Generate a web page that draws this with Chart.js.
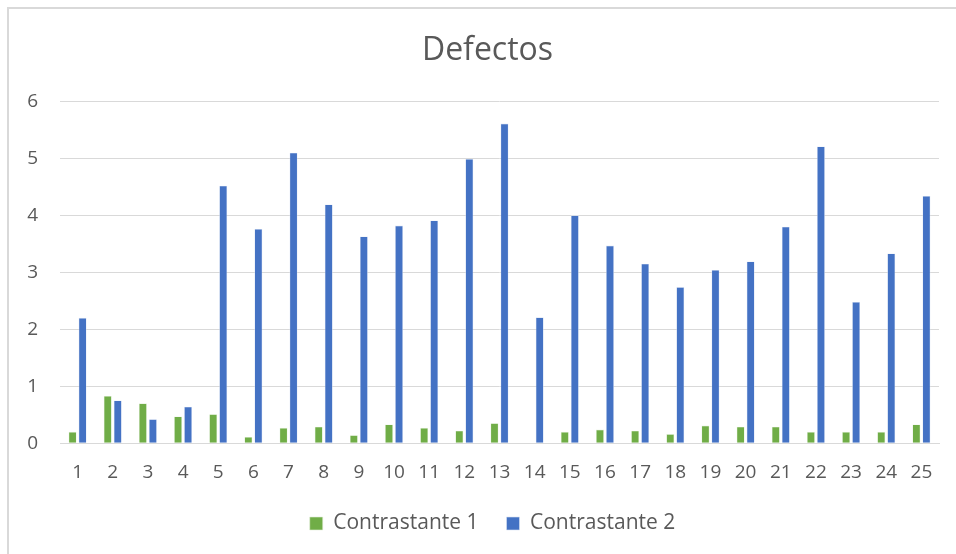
<!DOCTYPE html>
<html>
<head>
<meta charset="utf-8">
<script src="https://cdn.jsdelivr.net/npm/chart.js@4/dist/chart.umd.min.js"></script>
<style>
html,body{margin:0;padding:0;background:#fff;}
#wrap{position:relative;width:956px;height:554px;overflow:hidden;}
#frame{position:absolute;left:7px;top:7px;width:960px;height:560px;border-left:2px solid #d9d9d9;border-top:2px solid #d9d9d9;box-sizing:border-box;pointer-events:none;}
canvas{position:absolute;left:0;top:0;}
</style>
</head>
<body>
<div id="wrap">
<canvas id="c" width="956" height="554"></canvas>
<div id="frame"></div>
</div>
<script>
const categories = ['1','2','3','4','5','6','7','8','9','10','11','12','13','14','15','16','17','18','19','20','21','22','23','24','25'];
const contrastante1 = [0.20,0.83,0.70,0.47,0.51,0.11,0.27,0.29,0.14,0.33,0.27,0.22,0.35,0,0.20,0.24,0.22,0.16,0.31,0.29,0.29,0.20,0.20,0.20,0.33];
const contrastante2 = [2.20,0.75,0.42,0.64,4.52,3.76,5.10,4.19,3.63,3.82,3.91,4.99,5.61,2.21,4.00,3.47,3.15,2.74,3.04,3.19,3.80,5.21,2.48,3.33,4.34];
const seriesNames = ['Contrastante 1','Contrastante 2'];
const yTicks = [0,1,2,3,4,5,6];

const FONT = "'Open Sans', 'Liberation Sans', sans-serif";
const GREY = '#595959';

// The original chart frame extends past the right edge, so title and legend sit right of centre.
const shiftBlocks = {
  id: 'shiftBlocks',
  afterLayout(chart) {
    const t = chart.titleBlock, l = chart.legend;
    if (t) { t.left += 13; t.right += 13; }
    if (l) { l.left += 18; l.right += 18; }
  }
};

new Chart(document.getElementById('c'), {
  type: 'bar',
  data: {
    labels: categories,
    datasets: [
      {label: seriesNames[0], data: contrastante1, backgroundColor: '#70AD47', borderColor: '#e2efda', borderWidth: 0.6},
      {label: seriesNames[1], data: contrastante2, backgroundColor: '#4472C4', borderColor: '#dae3f3', borderWidth: 0.6}
    ]
  },
  plugins: [shiftBlocks],
  options: {
    responsive: false,
    animation: false,
    devicePixelRatio: 1,
    layout: {padding: {left: 10, right: 17, top: 16, bottom: 10}},
    datasets: {bar: {categoryPercentage: 0.57, barPercentage: 0.8}},
    plugins: {
      title: {display: true, text: 'Defectos', color: GREY, font: {family: FONT, size: 32, weight: 'normal'}, padding: {top: 16, bottom: 31}},
      legend: {position: 'bottom', labels: {color: GREY, font: {family: FONT, size: 21}, boxWidth: 13, boxHeight: 13, padding: 28}},
      tooltip: {enabled: false}
    },
    scales: {
      x: {
        grid: {display: false, drawTicks: false},
        border: {display: true, color: '#d9d9d9', width: 1},
        ticks: {color: GREY, font: {family: FONT, size: 19}, padding: 18, maxRotation: 0, autoSkip: false},
        afterFit: (s) => { s.height -= 17; }
      },
      y: {
        min: 0, max: 6,
        afterBuildTicks: (s) => { s.ticks = yTicks.map(v => ({value: v})); },
        afterFit: (s) => { s.width = 50; },
        grid: {color: '#d9d9d9', lineWidth: 1, drawTicks: false},
        border: {display: false},
        ticks: {color: GREY, font: {family: FONT, size: 19}, padding: 22}
      }
    }
  }
});
</script>
</body>
</html>
